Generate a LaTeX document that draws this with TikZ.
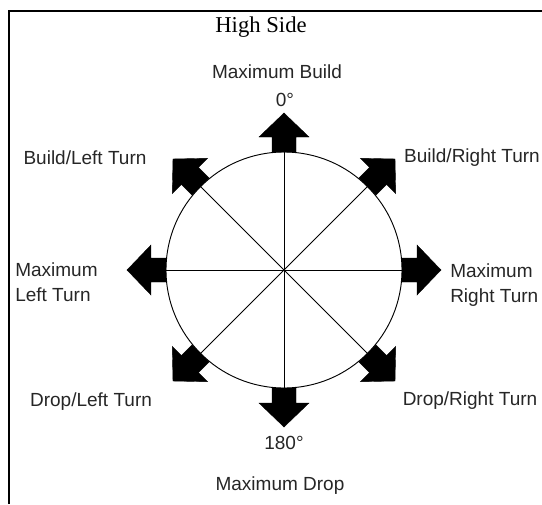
\documentclass[tikz,border=0pt]{standalone}
\usepackage{fontspec}
\setmainfont{Liberation Sans}
\newfontfamily\titlefont{Liberation Serif}
\tikzset{
  lbl/.style={inner sep=0pt,text=black!85,font=\fontsize{14.25}{18.75}\selectfont},
  spoke/.style={line width=0.7pt},
  dirarrow/.style={fill=black,draw=black,line width=0.3pt,line join=miter},
  frame/.style={line width=1.3pt}
}
\newcommand{\dirtip}{(118,-12) -- (133,-12) -- (133,-25) -- (157,0) -- (133,25) -- (133,12) -- (118,12) -- cycle}

\begin{document}
\begin{tikzpicture}[x=0.75pt,y=0.75pt]
\useasboundingbox (-284,-234) rectangle (258,270);
\draw[frame] (-275,-234) -- (-275,259) -- (258,259);
\node[circle,draw,line width=0.7pt,minimum size=177pt,inner sep=0pt] (dial) at (0,0) {};
\draw[spoke] (dial.90) -- (dial.270);
\draw[spoke] (dial.0) -- (dial.180);
\draw[spoke] (dial.45) -- (dial.225);
\draw[spoke] (dial.135) -- (dial.315);
\foreach \a in {0,45,...,315}
  \fill[dirarrow,rotate=\a] \dirtip;
\node[inner sep=0pt,font=\titlefont\fontsize{17}{20}\selectfont] (side) at (-23,243) {High Side};
\node[lbl] (mb) at (-7,198) {Maximum Build};
\node[lbl] (d0) at (1,170) {0°};
\node[lbl] (blt) at (-199,112) {Build/Left Turn};
\node[lbl] (brt) at (188,112) {Build/Right Turn};
\node[lbl,anchor=west,align=left] (mlt) at (-269,-12.5) {Maximum\\Left Turn};
\node[lbl,anchor=west,align=left] (mrt) at (166,-15) {Maximum\\Right Turn};
\node[lbl] (dlt) at (-193,-132) {Drop/Left Turn};
\node[lbl] (drt) at (186,-131) {Drop/Right Turn};
\node[lbl] (d180) at (0,-173) {180°};
\node[lbl] (md) at (-4,-216) {Maximum Drop};
\end{tikzpicture}
\end{document}
